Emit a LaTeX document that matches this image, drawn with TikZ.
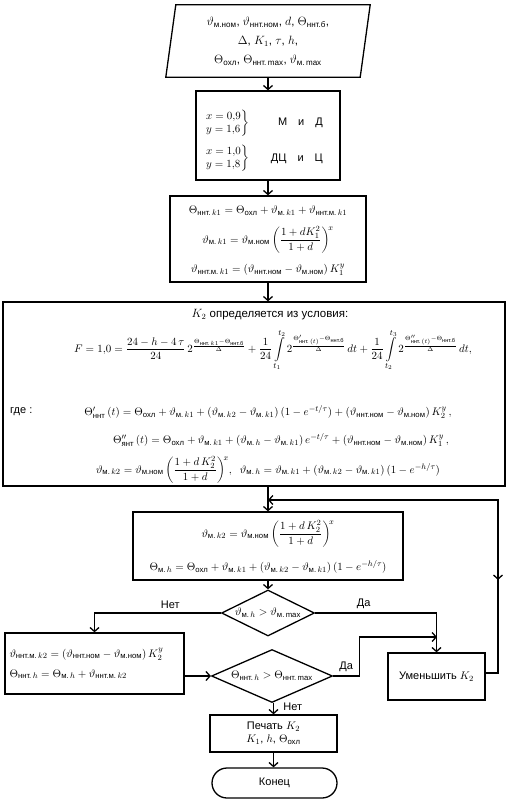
\documentclass[tikz,border=0pt]{standalone}
\usepackage{amsmath}
\usepackage{fontspec}
\setmainfont{Liberation Sans}
\usetikzlibrary{shapes.geometric,arrows.meta,decorations.markings}

% short names for the temperatures
\newcommand{\vmnom}{\vartheta_{\text{м.ном}}}
\newcommand{\vnnom}{\vartheta_{\text{ннт.ном}}}
\newcommand{\Tohl}{\Theta_{\text{охл}}}
\newcommand{\Tnb}{\Theta_{\text{ннт.б}}}
\newcommand{\vm}[1]{\vartheta_{\text{м.}\,#1}}
\newcommand{\Tn}[1]{\Theta_{\text{ннт.}\,#1}}
\newcommand{\vnm}[1]{\vartheta_{\text{ннт.м.}\,#1}}

\begin{document}
\begin{tikzpicture}[x=1pt, y=-1pt, font=\fontsize{11}{13}\selectfont,
    >={Straight Barb[length=4pt,width=9pt]},
    box/.style={draw, line width=1.3pt, inner sep=2pt, align=center},
    dec/.style={draw, diamond, aspect=2.3, line width=1.3pt, inner sep=0pt},
    txt/.style={inner sep=0pt},
    arr/.style={line width=1.3pt, ->},
    line/.style={line width=1.3pt}]
    \useasboundingbox (0,0) rectangle (509,803);

    % Define the main positions
    \coordinate (ax) at (268, 0);
    \coordinate (jn) at (268, 500);
    \coordinate (rt) at (498, 673);
    \coordinate (mg) at (437, 637);

    % Input data
    \node[align=center, minimum width=194pt, minimum height=72pt, font=\fontsize{11.5}{13}\selectfont] (in) at (268, 41)
        {$\vmnom$, $\vnnom$, $d$, $\Tnb$,\\[6pt]
         $\Delta$, $K_1$, $\tau$, $h$,\\[6pt]
         $\Tohl$, $\Tn{\text{max}}$, $\vm{\text{max}}$};
    \draw[line] ([xshift=5pt]in.north west) -- ([xshift=5pt]in.north east)
        -- ([xshift=-5pt]in.south east) -- ([xshift=-5pt]in.south west) -- cycle;

    % Exponents x and y
    \node[box, minimum width=144pt, minimum height=89pt] (prm) at (268, 135.5) {};
    \node[txt] (g1) at (227, 123) {$\left.\begin{array}{@{}l@{}} x = 0{,}9\\ y = 1{,}6\end{array}\right\}$};
    \node[txt] (g2) at (227, 158.5) {$\left.\begin{array}{@{}l@{}} x = 1{,}0\\ y = 1{,}8\end{array}\right\}$};
    \node[txt, anchor=east] (m1) at (323, 123) {М\quad и\quad Д};
    \node[txt, anchor=east] (m2) at (323, 158.5) {ДЦ\quad и\quad Ц};

    % Load K1
    \node[txt] (k1a) at (268, 211) {$\Tn{k1} = \Tohl + \vm{k1} + \vnm{k1}$};
    \node[txt] (k1b) at (268, 240) {$\vm{k1} = \vmnom\,\biggl(\dfrac{1 + dK_1^{2}}{1 + d}\biggr)^{\!x}$};
    \node[txt] (k1c) at (268, 270) {$\vnm{k1} = (\vnnom - \vmnom)\,K_1^{y}$};
    \node[box, minimum width=196pt, minimum height=86pt] (k1) at (268, 239) {};

    % Condition for K2
    \node[box, minimum width=502pt, minimum height=184pt] (cond) at (254, 394) {};
    \node[txt, font=\fontsize{11.5}{13}\selectfont] (ttl) at (270, 315) {$K_2$ определяется из условия:};
    \node[txt, font=\fontsize{11.2}{13}\selectfont] (F) at (273, 350) {$F = 1{,}0 = \dfrac{24 - h - 4\,\tau}{24}\,2^{\frac{\Tn{k1} - \Tnb}{\Delta}}
        + \dfrac{1}{24}\displaystyle\int\limits_{t_1}^{t_2} 2^{\frac{\Theta'_{\text{ннт.}\,(t)} - \Tnb}{\Delta}}\,dt
        + \dfrac{1}{24}\displaystyle\int\limits_{t_2}^{t_3} 2^{\frac{\Theta''_{\text{ннт.}\,(t)} - \Tnb}{\Delta}}\,dt,$};
    \node[txt, anchor=west] (gde) at (10, 412) {где :};
    \node[txt] (th1) at (268, 412) {$\Theta'_{\text{ннт}}\,(t) = \Tohl + \vm{k1} + (\vm{k2} - \vm{k1})\,(1 - e^{-t/\tau}) + (\vnnom - \vmnom)\,K_2^{y}\,,$};
    \node[txt] (th2) at (281, 440) {$\Theta''_{\text{янт}}\,(t) = \Tohl + \vm{k1} + (\vm{h} - \vm{k1})\,e^{-t/\tau} + (\vnnom - \vmnom)\,K_1^{y}\,,$};
    \node[txt] (th3) at (268, 470) {$\vm{k2} = \vmnom\,\biggl(\dfrac{1 + d\,K_2^{2}}{1 + d}\biggr)^{\!x},\ \ \vm{h} = \vm{k1} + (\vm{k2} - \vm{k1})\,(1 - e^{-h/\tau})$};

    % Heating at K2
    \node[txt] (k2a) at (268, 534) {$\vm{k2} = \vmnom\,\biggl(\dfrac{1 + d\,K_2^{2}}{1 + d}\biggr)^{\!x}$};
    \node[txt] (k2b) at (268, 567) {$\Theta_{\text{м.}\,h} = \Tohl + \vm{k1} + (\vm{k2} - \vm{k1})\,(1 - e^{-h/\tau})$};
    \node[box, minimum width=270pt, minimum height=68pt] (k2) at (268, 546) {};

    % Checks
    \node[dec, minimum width=93pt, minimum height=46pt] (d1) at (268, 613) {$\vm{h} > \vm{\text{max}}$};
    \node[box, align=left, minimum width=179pt, minimum height=61pt, text width=170pt] (hs) at (94.5, 663.5)
        {$\vnm{k2} = (\vnnom - \vmnom)\,K_2^{y}$\\[7pt]
         $\Tn{h} = \Theta_{\text{м.}\,h} + \vnm{k2}$};
    \node[dec, minimum width=121pt, minimum height=53pt] (d2) at (272, 676) {$\Tn{h} > \Tn{\text{max}}$};
    \node[box, minimum width=97pt, minimum height=47pt] (red) at (436.5, 676.5) {Уменьшить $K_2$};

    % Output and end
    \node[box, minimum width=127pt, minimum height=37pt, inner sep=1pt] (out) at (273.5, 733.5)
        {Печать $K_2$\\ $K_1$, $h$, $\Tohl$};
    \node[box, rounded corners=15pt, minimum width=125pt, minimum height=30pt] (stop) at (274.5, 783) {Конец};

    % Draw the flow
    \draw[arr] (ax |- in.south) -- (ax |- prm.north);
    \draw[arr] (ax |- prm.south) -- (ax |- k1.north);
    \draw[arr] (ax |- k1.south) -- (ax |- cond.north);
    \draw[arr] (ax |- cond.south) -- (ax |- k2.north);
    \draw[arr] (ax |- k2.south) -- (d1.north);
    \draw[arr] (d1.west) -| node[pos=0.2, above] {Нет} (hs.north);
    \draw[arr] (d1.east) -| node[pos=0.2, above] {Да} (red.north);
    \draw[arr] (hs.east |- d2.west) -- (d2.west);
    \draw[arr] (d2.east) -- node[above] {Да} ++(26,0) |- (mg);
    \draw[arr] (d2.south -| out.north) -- node[right, xshift=6pt, yshift=2pt] {Нет} (out.north);
    \draw[arr] (out.south) -- (out.south |- stop.north);
    \draw[arr, postaction={decorate},
        decoration={markings, mark=at position 111pt with {\arrow{<}}}]
        (red.east |- rt) -- (rt) -- (rt |- jn) -- (jn);
\end{tikzpicture}
\end{document}
